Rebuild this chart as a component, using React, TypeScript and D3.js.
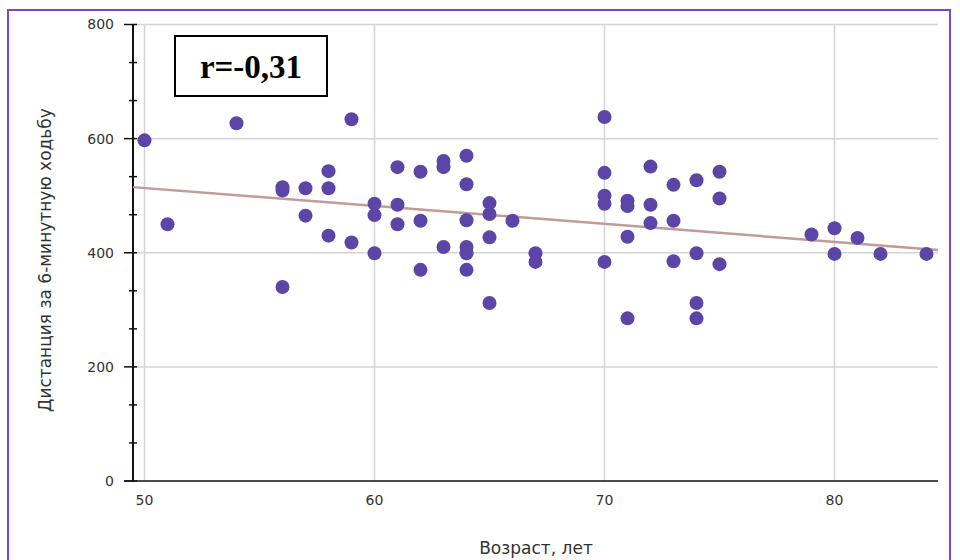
import React, { useEffect, useRef } from "react";
import * as d3 from "d3";

// age (years) and 6-minute walk distance
const ages = [
  50, 51, 54,
  56, 56, 56,
  57, 57,
  58, 58, 58,
  59, 59,
  60, 60, 60,
  61, 61, 61,
  62, 62, 62,
  63, 63, 63,
  64, 64, 64, 64, 64, 64,
  65, 65, 65, 65,
  66,
  67, 67,
  70, 70, 70, 70, 70,
  71, 71, 71, 71,
  72, 72, 72,
  73, 73, 73,
  74, 74, 74, 74,
  75, 75, 75,
  79, 80, 80, 81, 82, 84,
];
const distances = [
  597, 450, 627,
  509, 515, 340,
  513, 465,
  543, 513, 430,
  634, 418,
  486, 466, 399,
  550, 484, 450,
  542, 456, 370,
  561, 550, 410,
  570, 520, 457, 410, 399, 370,
  487, 468, 427, 312,
  456,
  399, 384,
  638, 540, 500, 486, 384,
  491, 482, 428, 285,
  551, 484, 452,
  519, 456, 385,
  527, 399, 312, 285,
  542, 495, 380,
  432, 443, 398, 426, 398, 398,
];

const xTicks = [50, 60, 70, 80];
const yTicks = [0, 200, 400, 600, 800];
const trendAge = [49.5, 84.5];
const trendDist = [515, 405];
const rLabel = "r=-0,31";
const xTitle = "Возраст, лет";
const yTitle = "Дистанция за 6-минутную ходьбу";

export default function App() {
  const ref = useRef<SVGSVGElement>(null);

  useEffect(() => {
    const svg = d3.select(ref.current);
    svg.selectAll("*").remove();

    const x = d3.scaleLinear().domain([49.5, 84.5]).range([133, 938]);
    const y = d3.scaleLinear().domain([0, 800]).range([481, 24.5]);

    // outer frame
    svg
      .append("rect")
      .attr("x", 8)
      .attr("y", 10)
      .attr("width", 942)
      .attr("height", 570)
      .attr("fill", "white")
      .attr("stroke", "#7d45c4")
      .attr("stroke-width", 2);

    // grid
    svg
      .append("g")
      .selectAll("line")
      .data(yTicks.filter((d) => d > 0))
      .enter()
      .append("line")
      .attr("x1", x(49.5))
      .attr("x2", x(84.5))
      .attr("y1", (d) => y(d))
      .attr("y2", (d) => y(d))
      .attr("stroke", "#d4d4d4")
      .attr("stroke-width", 1.5);

    svg
      .append("g")
      .selectAll("line")
      .data(xTicks)
      .enter()
      .append("line")
      .attr("x1", (d) => x(d))
      .attr("x2", (d) => x(d))
      .attr("y1", y(0))
      .attr("y2", y(800))
      .attr("stroke", "#d4d4d4")
      .attr("stroke-width", 1.5);

    // x axis line
    svg
      .append("line")
      .attr("x1", 124)
      .attr("x2", x(84.5))
      .attr("y1", y(0))
      .attr("y2", y(0))
      .attr("stroke", "#111")
      .attr("stroke-width", 1.5);

    // y axis line + ticks (they cross the axis)
    svg
      .append("line")
      .attr("x1", x(49.5))
      .attr("x2", x(49.5))
      .attr("y1", y(0))
      .attr("y2", y(800))
      .attr("stroke", "#111")
      .attr("stroke-width", 2);

    const minor = d3.range(0, 800.1, 200 / 3).filter((d) => !yTicks.some((t) => Math.abs(t - d) < 1));
    svg
      .append("g")
      .selectAll("line")
      .data(minor)
      .enter()
      .append("line")
      .attr("x1", x(49.5) - 4)
      .attr("x2", x(49.5) + 4)
      .attr("y1", (d) => y(d))
      .attr("y2", (d) => y(d))
      .attr("stroke", "#111")
      .attr("stroke-width", 1.5);

    svg
      .append("g")
      .selectAll("line")
      .data(yTicks)
      .enter()
      .append("line")
      .attr("x1", x(49.5) - 9)
      .attr("x2", x(49.5) + 4)
      .attr("y1", (d) => y(d))
      .attr("y2", (d) => y(d))
      .attr("stroke", "#111")
      .attr("stroke-width", 1.5);

    // tick labels
    svg
      .append("g")
      .selectAll("text")
      .data(yTicks)
      .enter()
      .append("text")
      .attr("x", 114)
      .attr("y", (d) => y(d))
      .attr("dy", "0.35em")
      .attr("text-anchor", "end")
      .attr("font-family", "DejaVu Sans, sans-serif")
      .attr("font-size", 14)
      .attr("fill", "#333")
      .text((d) => d);

    svg
      .append("g")
      .selectAll("text")
      .data(xTicks)
      .enter()
      .append("text")
      .attr("x", (d) => x(d))
      .attr("y", 505)
      .attr("text-anchor", "middle")
      .attr("font-family", "DejaVu Sans, sans-serif")
      .attr("font-size", 14)
      .attr("fill", "#333")
      .text((d) => d);

    // axis titles
    svg
      .append("text")
      .attr("transform", "translate(51,260) rotate(-90)")
      .attr("text-anchor", "middle")
      .attr("font-family", "DejaVu Sans, sans-serif")
      .attr("font-size", 17)
      .attr("fill", "#333")
      .text(yTitle);

    svg
      .append("text")
      .attr("x", 536)
      .attr("y", 554)
      .attr("text-anchor", "middle")
      .attr("font-family", "DejaVu Sans, sans-serif")
      .attr("font-size", 17)
      .attr("fill", "#333")
      .text(xTitle);

    // trend line
    const line = d3
      .line<number>()
      .x((d) => x(d))
      .y((d, i) => y(trendDist[i]));
    svg
      .append("path")
      .attr("d", line(trendAge))
      .attr("fill", "none")
      .attr("stroke", "#c49a94")
      .attr("stroke-width", 2.5);

    // points
    svg
      .append("g")
      .selectAll("circle")
      .data(ages)
      .enter()
      .append("circle")
      .attr("cx", (d) => x(d))
      .attr("cy", (d, i) => y(distances[i]))
      .attr("r", 7)
      .attr("fill", "#5b46a7");

    // correlation box
    svg
      .append("rect")
      .attr("x", 175)
      .attr("y", 36)
      .attr("width", 152)
      .attr("height", 60)
      .attr("fill", "white")
      .attr("stroke", "#000")
      .attr("stroke-width", 2);

    svg
      .append("text")
      .attr("x", 251)
      .attr("y", 78)
      .attr("text-anchor", "middle")
      .attr("font-family", "Liberation Serif, serif")
      .attr("font-weight", "bold")
      .attr("font-size", 33)
      .attr("fill", "#000")
      .text(rLabel);
  }, []);

  return (
    <svg
      ref={ref}
      width={960}
      height={560}
      style={{ position: "absolute", left: 0, top: 0 }}
    />
  );
}
